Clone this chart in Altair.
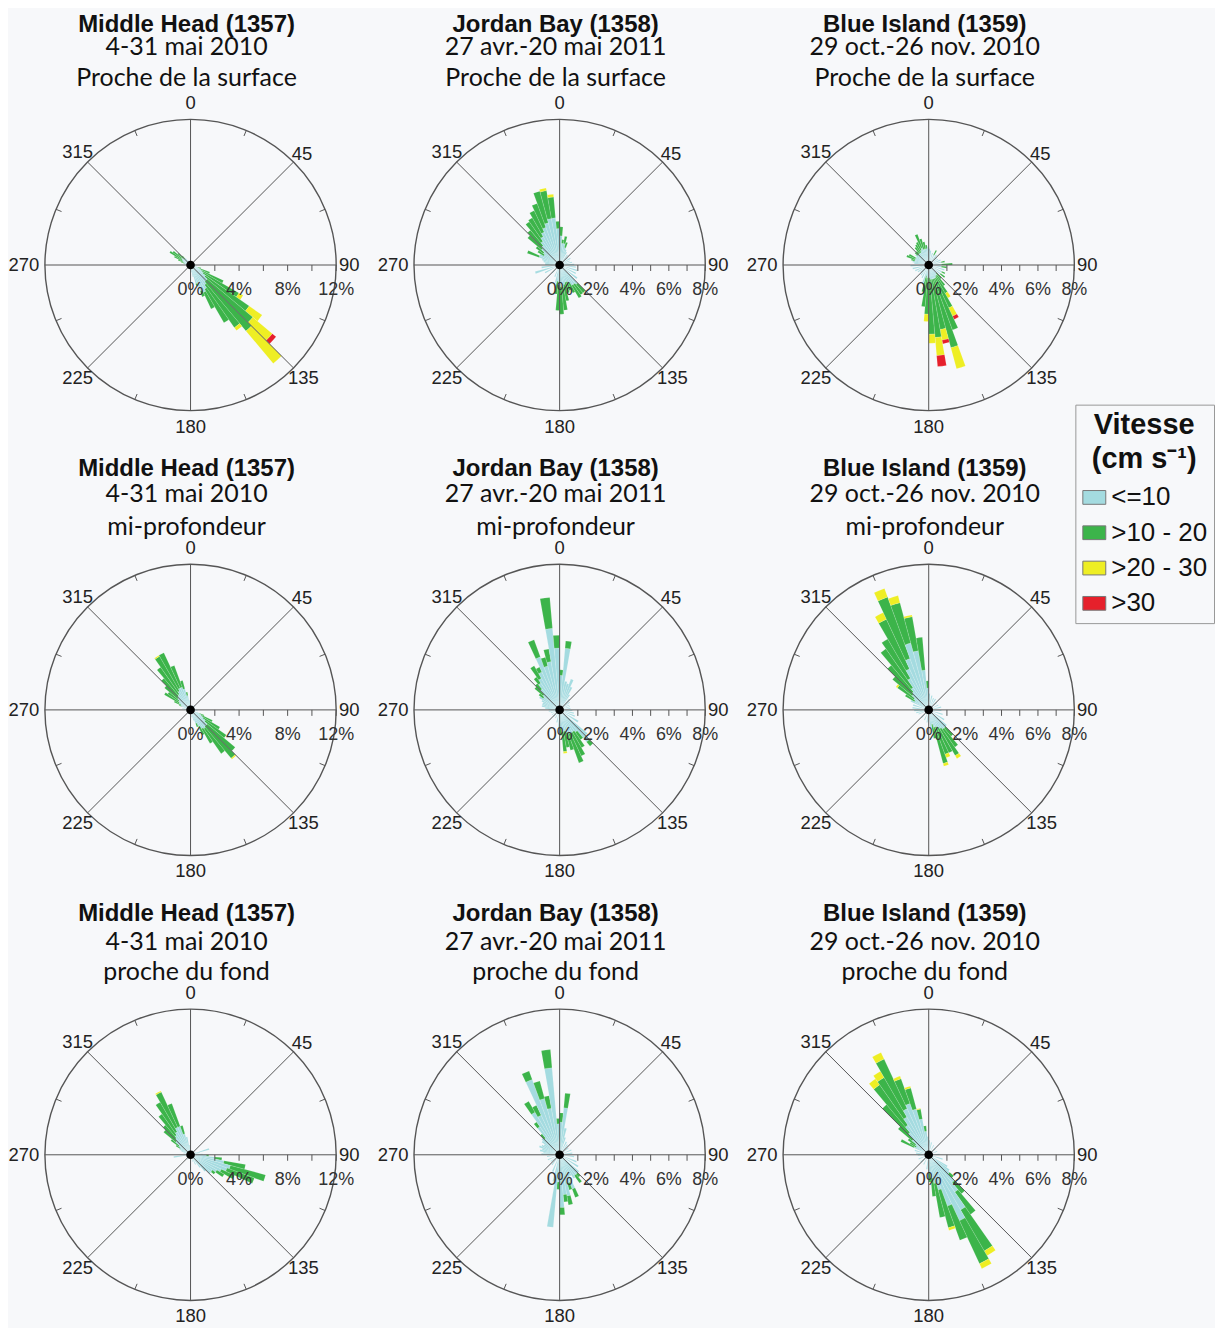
import numpy as np
import pandas as pd
import altair as alt

# ---------------- data ----------------
SPEED_CLASSES = ["<=10", ">10 - 20", ">20 - 30", ">30"]
COLORS = ["#a4dbe0", "#3cb44a", "#eeee24", "#e6202b"]

STATIONS = ["Middle Head (1357)", "Jordan Bay (1358)", "Blue Island (1359)"]
DATES = ["4-31 mai 2010", "27 avr.-20 mai 2011", "29 oct.-26 nov. 2010"]
DEPTHS = ["Proche de la surface", "mi-profondeur", "proche du fond"]

ANGLE_LABELS = [0, 45, 90, 135, 180, 225, 270, 315]
PCT_LABELS_WIDE = [0, 4, 8, 12]
PCT_LABELS_NARROW = [0, 2, 4, 6, 8]
BIN_WIDTH = 5

# (direction bin centre, % <=10, % >10-20, % >20-30, % >30)
P1 = [
    (2.5, 0.3, 0, 0, 0), (22.5, 0.3, 0, 0, 0), (47.5, 0.3, 0, 0, 0), (67.5, 0.3, 0, 0, 0),
    (87.5, 0.4, 0, 0, 0), (97.5, 0.4, 0, 0, 0), (102.5, 0.5, 0, 0, 0), (107.5, 0.6, 0.3, 0, 0),
    (112.5, 0.8, 0.9, 0, 0), (117.5, 1.0, 2.0, 0, 0), (122.5, 1.2, 3.4, 0.4, 0),
    (127.5, 1.5, 4.4, 1.3, 0), (132.5, 1.8, 4.9, 2.1, 0.4), (137.5, 1.8, 5.3, 3.5, 0),
    (142.5, 2.0, 4.3, 0.3, 0), (147.5, 2.3, 3.2, 0, 0), (152.5, 2.5, 1.5, 0, 0),
    (157.5, 2.3, 0.5, 0, 0), (162.5, 1.6, 0.2, 0, 0), (167.5, 1.0, 0, 0, 0), (172.5, 0.6, 0, 0, 0),
    (187.5, 0.4, 0, 0, 0), (212.5, 0.3, 0, 0, 0), (242.5, 0.3, 0, 0, 0), (262.5, 0.4, 0, 0, 0),
    (272.5, 0.5, 0, 0, 0), (277.5, 0.4, 0, 0, 0), (282.5, 0.6, 0, 0, 0), (287.5, 0.5, 0.3, 0, 0),
    (292.5, 0.6, 0.5, 0, 0), (297.5, 0.7, 0.8, 0, 0), (302.5, 0.8, 1.2, 0, 0),
    (307.5, 0.9, 0.9, 0, 0), (312.5, 0.8, 0.6, 0, 0), (317.5, 0.7, 0.3, 0, 0),
    (322.5, 0.7, 0, 0, 0), (327.5, 0.5, 0, 0, 0), (337.5, 0.4, 0, 0, 0), (352.5, 0.3, 0, 0, 0),
]
P2 = [
    (2.5, 1.6, 0.5, 0, 0), (7.5, 1.2, 0.2, 0, 0), (12.5, 1.2, 0.4, 0, 0), (17.5, 1.0, 0.3, 0, 0),
    (22.5, 0.9, 0, 0, 0), (27.5, 0.8, 0, 0, 0), (37.5, 0.7, 0, 0, 0), (47.5, 0.6, 0, 0, 0),
    (57.5, 0.7, 0, 0, 0), (67.5, 0.6, 0, 0, 0), (77.5, 0.7, 0, 0, 0), (87.5, 0.8, 0, 0, 0),
    (97.5, 0.9, 0, 0, 0), (107.5, 1.0, 0, 0, 0), (117.5, 1.0, 0, 0, 0), (127.5, 1.2, 0, 0, 0),
    (137.5, 1.4, 0.6, 0, 0), (142.5, 1.3, 0.7, 0, 0), (147.5, 1.3, 0.8, 0, 0),
    (152.5, 1.1, 0.6, 0, 0), (157.5, 1.0, 0.5, 0, 0), (162.5, 1.0, 0.6, 0, 0),
    (167.5, 1.1, 0.9, 0, 0), (172.5, 1.2, 1.3, 0, 0), (177.5, 1.2, 1.5, 0, 0),
    (182.5, 1.1, 1.4, 0, 0), (187.5, 0.9, 0.7, 0, 0), (192.5, 1.0, 0, 0, 0),
    (202.5, 0.7, 0, 0, 0), (222.5, 0.6, 0, 0, 0), (242.5, 0.9, 0, 0, 0), (252.5, 1.4, 0, 0, 0),
    (262.5, 1.0, 0, 0, 0), (272.5, 0.8, 0, 0, 0), (277.5, 0.8, 0, 0, 0), (282.5, 0.9, 0, 0, 0),
    (287.5, 1.0, 0, 0, 0), (292.5, 1.2, 0.7, 0, 0), (297.5, 1.2, 0, 0, 0), (302.5, 1.0, 0.4, 0, 0),
    (307.5, 1.1, 0.5, 0, 0), (312.5, 1.3, 1.0, 0, 0), (317.5, 1.4, 1.1, 0, 0),
    (322.5, 1.6, 1.3, 0, 0), (327.5, 1.8, 1.2, 0, 0), (332.5, 2.0, 1.3, 0, 0),
    (337.5, 2.2, 1.4, 0, 0), (342.5, 2.4, 1.8, 0, 0), (347.5, 2.6, 1.55, 0.15, 0),
    (352.5, 2.6, 1.15, 0.15, 0), (357.5, 2.0, 0.4, 0, 0),
]
P3 = [
    (2.5, 0.9, 0, 0, 0), (7.5, 0.8, 0, 0, 0), (17.5, 0.7, 0, 0, 0), (27.5, 0.6, 0.3, 0, 0),
    (37.5, 0.7, 0, 0, 0), (47.5, 0.6, 0, 0, 0), (57.5, 0.6, 0, 0, 0), (67.5, 0.7, 0, 0, 0),
    (77.5, 0.7, 0.2, 0, 0), (87.5, 0.7, 0.6, 0, 0), (97.5, 0.7, 0.3, 0, 0), (107.5, 0.9, 0, 0, 0),
    (117.5, 0.8, 0.2, 0, 0), (127.5, 0.8, 0.3, 0, 0), (137.5, 0.6, 0.4, 0, 0),
    (142.5, 0.7, 0.7, 0, 0), (147.5, 0.7, 1.1, 0.3, 0), (152.5, 0.8, 1.8, 0.5, 0.2),
    (157.5, 0.8, 3.0, 0, 0), (162.5, 0.8, 3.9, 1.2, 0), (167.5, 0.8, 2.8, 0.6, 0.2),
    (172.5, 0.8, 3.2, 1.0, 0.6), (177.5, 0.7, 3.1, 0.5, 0), (182.5, 0.7, 2.0, 0.4, 0),
    (187.5, 0.7, 1.6, 0, 0), (192.5, 0.6, 0.9, 0, 0), (197.5, 1.0, 0, 0, 0), (207.5, 0.8, 0, 0, 0),
    (217.5, 0.7, 0, 0, 0), (227.5, 0.6, 0, 0, 0), (237.5, 0.7, 0, 0, 0), (247.5, 0.8, 0, 0, 0),
    (257.5, 0.9, 0, 0, 0), (267.5, 1.0, 0, 0, 0), (277.5, 0.8, 0, 0, 0), (282.5, 0.9, 0, 0, 0),
    (287.5, 0.8, 0.2, 0, 0), (292.5, 0.8, 0.5, 0, 0), (297.5, 0.8, 0.4, 0, 0), (302.5, 0.8, 0, 0, 0),
    (307.5, 0.9, 0, 0, 0), (312.5, 0.8, 0.2, 0, 0), (317.5, 0.8, 0.2, 0, 0), (322.5, 0.8, 0.4, 0, 0),
    (327.5, 0.8, 0.5, 0, 0), (332.5, 0.9, 0.5, 0, 0), (337.5, 1.0, 0.8, 0, 0),
    (342.5, 0.9, 0.6, 0, 0), (347.5, 0.9, 0.4, 0, 0), (352.5, 0.9, 0.2, 0, 0), (357.5, 1.0, 0, 0, 0),
]
P4 = [
    (2.5, 0.4, 0, 0, 0), (22.5, 0.4, 0, 0, 0), (42.5, 0.5, 0, 0, 0), (62.5, 0.4, 0, 0, 0),
    (82.5, 0.5, 0, 0, 0), (97.5, 0.6, 0, 0, 0), (112.5, 0.8, 0.4, 0, 0), (117.5, 1.0, 1.0, 0, 0),
    (122.5, 1.2, 1.6, 0, 0), (127.5, 1.5, 2.1, 0, 0), (132.5, 1.8, 3.0, 0, 0),
    (137.5, 1.8, 3.4, 0.1, 0), (142.5, 1.9, 2.5, 0, 0), (147.5, 1.8, 1.4, 0, 0),
    (152.5, 1.5, 0.8, 0, 0), (157.5, 1.2, 0.3, 0, 0), (162.5, 0.9, 0, 0, 0), (172.5, 0.6, 0, 0, 0),
    (192.5, 0.4, 0, 0, 0), (222.5, 0.4, 0, 0, 0), (252.5, 0.4, 0, 0, 0), (272.5, 0.5, 0, 0, 0),
    (282.5, 0.7, 0, 0, 0), (292.5, 0.8, 0.2, 0, 0), (297.5, 0.9, 0.6, 0, 0),
    (302.5, 1.1, 1.4, 0, 0), (307.5, 1.2, 1.1, 0, 0), (312.5, 1.4, 1.4, 0, 0),
    (317.5, 1.5, 1.9, 0, 0), (322.5, 1.6, 2.7, 0, 0), (327.5, 1.8, 3.3, 0.1, 0),
    (332.5, 2.0, 3.2, 0, 0), (337.5, 2.0, 1.9, 0, 0), (342.5, 1.8, 0.7, 0, 0),
    (347.5, 1.2, 0.3, 0, 0), (352.5, 0.8, 0, 0, 0),
]
P5 = [
    (2.5, 1.9, 0.3, 0, 0), (7.5, 3.4, 0.4, 0, 0), (12.5, 1.6, 0, 0, 0), (17.5, 1.5, 0, 0, 0),
    (22.5, 1.8, 0, 0, 0), (27.5, 1.4, 0, 0, 0), (32.5, 1.0, 0, 0, 0), (42.5, 0.8, 0, 0, 0),
    (52.5, 0.7, 0, 0, 0), (62.5, 0.6, 0, 0, 0), (72.5, 0.6, 0, 0, 0), (82.5, 0.6, 0, 0, 0),
    (92.5, 0.7, 0, 0, 0), (102.5, 0.8, 0, 0, 0), (112.5, 0.9, 0, 0, 0), (122.5, 1.2, 0, 0, 0),
    (132.5, 2.0, 0, 0, 0), (137.5, 2.3, 0.3, 0, 0), (142.5, 1.5, 0.5, 0, 0),
    (147.5, 1.4, 1.0, 0, 0), (152.5, 1.4, 1.4, 0, 0), (157.5, 1.4, 1.7, 0, 0),
    (162.5, 1.3, 1.0, 0, 0), (167.5, 1.2, 0.9, 0, 0), (172.5, 1.2, 1.1, 0.1, 0),
    (177.5, 1.0, 0.4, 0, 0), (182.5, 1.0, 0, 0, 0), (192.5, 0.7, 0, 0, 0), (207.5, 0.5, 0, 0, 0),
    (222.5, 0.5, 0, 0, 0), (237.5, 0.5, 0, 0, 0), (252.5, 0.5, 0, 0, 0), (262.5, 0.6, 0, 0, 0),
    (272.5, 0.6, 0, 0, 0), (277.5, 0.8, 0, 0, 0), (282.5, 1.0, 0, 0, 0), (287.5, 1.0, 0, 0, 0),
    (292.5, 1.0, 0, 0, 0), (297.5, 1.1, 0, 0, 0), (302.5, 1.3, 0, 0, 0), (307.5, 1.1, 0.3, 0, 0),
    (312.5, 1.2, 0.6, 0, 0), (317.5, 1.5, 0.4, 0, 0), (322.5, 1.8, 0.4, 0, 0),
    (327.5, 2.0, 0.8, 0, 0), (332.5, 2.3, 0.3, 0, 0), (337.5, 3.1, 1.0, 0, 0),
    (342.5, 2.5, 0.5, 0, 0), (347.5, 2.7, 0.7, 0, 0), (352.5, 4.5, 1.7, 0, 0),
    (357.5, 3.4, 0.7, 0, 0),
]
P6 = [
    (2.5, 0.9, 0, 0, 0), (12.5, 0.8, 0, 0, 0), (22.5, 0.7, 0, 0, 0), (32.5, 0.7, 0, 0, 0),
    (47.5, 0.6, 0, 0, 0), (62.5, 0.6, 0, 0, 0), (77.5, 0.7, 0, 0, 0), (92.5, 0.7, 0, 0, 0),
    (107.5, 0.8, 0, 0, 0), (122.5, 1.0, 0, 0, 0), (132.5, 1.3, 0, 0, 0), (137.5, 1.3, 0.6, 0, 0),
    (142.5, 1.3, 1.2, 0, 0), (147.5, 1.2, 1.7, 0.2, 0), (152.5, 1.1, 1.5, 0, 0),
    (157.5, 1.0, 1.6, 0.2, 0), (162.5, 1.0, 2.05, 0.15, 0), (167.5, 0.8, 0.8, 0, 0),
    (172.5, 1.0, 0, 0, 0), (187.5, 0.7, 0, 0, 0), (202.5, 0.6, 0, 0, 0), (222.5, 0.6, 0, 0, 0),
    (247.5, 0.6, 0, 0, 0), (257.5, 0.7, 0, 0, 0), (267.5, 0.8, 0, 0, 0), (277.5, 0.9, 0, 0, 0),
    (287.5, 0.9, 0, 0, 0), (297.5, 1.1, 0, 0, 0), (302.5, 0.9, 0.6, 0, 0),
    (307.5, 1.0, 1.1, 0.1, 0), (312.5, 1.2, 1.4, 0, 0), (317.5, 1.3, 1.9, 0, 0),
    (322.5, 1.5, 2.6, 0, 0), (327.5, 2.0, 2.5, 0, 0), (332.5, 2.5, 3.0, 0.4, 0),
    (337.5, 3.0, 3.6, 0.5, 0), (342.5, 3.8, 2.3, 0.4, 0), (347.5, 3.3, 1.9, 0.1, 0),
    (352.5, 2.2, 1.8, 0, 0), (357.5, 1.2, 0.4, 0, 0),
]
P7 = [
    (2.5, 0.4, 0, 0, 0), (22.5, 0.4, 0, 0, 0), (42.5, 0.5, 0, 0, 0), (67.5, 0.5, 0, 0, 0),
    (72.5, 1.6, 0, 0, 0), (77.5, 0.8, 0, 0, 0), (87.5, 1.0, 0, 0, 0), (92.5, 1.3, 0.2, 0, 0),
    (97.5, 2.0, 0.6, 0, 0), (102.5, 2.8, 1.8, 0, 0), (107.5, 3.4, 3.0, 0, 0),
    (112.5, 3.2, 2.4, 0, 0), (117.5, 2.8, 1.2, 0, 0), (122.5, 2.5, 0.7, 0, 0),
    (127.5, 2.2, 0.3, 0, 0), (132.5, 2.2, 0, 0, 0), (137.5, 1.8, 0, 0, 0), (142.5, 1.3, 0, 0, 0),
    (152.5, 0.9, 0, 0, 0), (162.5, 0.6, 0, 0, 0), (182.5, 0.4, 0, 0, 0), (212.5, 0.5, 0, 0, 0),
    (242.5, 0.4, 0, 0, 0), (262.5, 1.4, 0, 0, 0), (272.5, 0.5, 0, 0, 0), (282.5, 0.6, 0, 0, 0),
    (292.5, 0.8, 0, 0, 0), (297.5, 1.0, 0, 0, 0), (302.5, 1.0, 0.4, 0, 0),
    (307.5, 1.2, 0.8, 0, 0), (312.5, 1.6, 1.3, 0, 0), (317.5, 1.8, 1.4, 0, 0),
    (322.5, 2.0, 2.1, 0, 0), (327.5, 2.2, 2.8, 0, 0), (332.5, 2.5, 3.2, 0.1, 0),
    (337.5, 2.5, 2.0, 0, 0), (342.5, 1.8, 0.7, 0, 0), (347.5, 1.5, 0, 0, 0), (352.5, 0.8, 0, 0, 0),
]
P8 = [
    (2.5, 1.8, 0.5, 0, 0), (7.5, 2.6, 0.8, 0, 0), (12.5, 1.5, 0, 0, 0), (17.5, 1.0, 0, 0, 0),
    (27.5, 0.8, 0, 0, 0), (37.5, 0.7, 0, 0, 0), (52.5, 0.6, 0, 0, 0), (67.5, 0.7, 0, 0, 0),
    (82.5, 0.7, 0, 0, 0), (97.5, 0.8, 0, 0, 0), (112.5, 1.0, 0, 0, 0), (122.5, 1.2, 0, 0, 0),
    (132.5, 1.4, 0, 0, 0), (137.5, 1.4, 0.2, 0, 0), (142.5, 1.4, 0.5, 0, 0), (147.5, 1.5, 0, 0, 0),
    (152.5, 1.3, 0, 0, 0), (157.5, 2.0, 0.5, 0, 0), (162.5, 1.6, 0.4, 0, 0),
    (167.5, 2.3, 0.5, 0, 0), (172.5, 2.2, 0.4, 0, 0), (177.5, 2.9, 0.4, 0, 0),
    (182.5, 1.5, 0.4, 0, 0), (187.5, 4.0, 0, 0, 0), (192.5, 1.5, 0, 0, 0), (202.5, 1.0, 0, 0, 0),
    (217.5, 0.7, 0, 0, 0), (232.5, 0.6, 0, 0, 0), (247.5, 0.7, 0, 0, 0), (262.5, 0.7, 0, 0, 0),
    (272.5, 1.0, 0, 0, 0), (277.5, 0.9, 0, 0, 0), (282.5, 1.1, 0, 0, 0), (287.5, 1.0, 0, 0, 0),
    (292.5, 1.2, 0, 0, 0), (297.5, 1.1, 0, 0, 0), (302.5, 1.0, 0, 0, 0), (307.5, 1.2, 0, 0, 0),
    (312.5, 1.3, 0, 0, 0), (317.5, 1.2, 0.3, 0, 0), (322.5, 1.9, 0.3, 0, 0),
    (327.5, 2.7, 0.7, 0, 0), (332.5, 2.4, 0.6, 0, 0), (337.5, 4.4, 0.5, 0, 0),
    (342.5, 3.2, 1.0, 0, 0), (347.5, 2.6, 0.7, 0, 0), (352.5, 4.8, 1.0, 0, 0),
    (357.5, 1.7, 0.3, 0, 0),
]
P9 = [
    (2.5, 0.8, 0, 0, 0), (12.5, 0.7, 0, 0, 0), (27.5, 0.6, 0, 0, 0), (47.5, 0.5, 0, 0, 0),
    (67.5, 0.5, 0, 0, 0), (87.5, 0.6, 0, 0, 0), (107.5, 0.8, 0, 0, 0), (122.5, 1.2, 0, 0, 0),
    (127.5, 1.4, 0, 0, 0), (132.5, 1.5, 0.3, 0, 0), (137.5, 2.0, 0.8, 0, 0),
    (142.5, 2.5, 1.5, 0, 0), (147.5, 3.5, 2.6, 0.3, 0), (152.5, 4.0, 2.6, 0.3, 0),
    (157.5, 3.0, 2.0, 0, 0), (162.5, 2.0, 2.15, 0.15, 0), (167.5, 1.6, 1.9, 0, 0),
    (172.5, 1.3, 1.0, 0, 0), (177.5, 1.0, 0.5, 0, 0), (187.5, 0.8, 0, 0, 0), (207.5, 0.6, 0, 0, 0),
    (227.5, 0.6, 0, 0, 0), (247.5, 0.6, 0, 0, 0), (267.5, 0.6, 0, 0, 0), (277.5, 0.7, 0, 0, 0),
    (287.5, 0.8, 0, 0, 0), (297.5, 0.9, 0.8, 0, 0), (302.5, 0.8, 0.4, 0, 0),
    (307.5, 0.9, 0.5, 0, 0), (312.5, 1.2, 1.0, 0, 0), (317.5, 1.6, 2.0, 0, 0),
    (322.5, 2.0, 2.7, 0.4, 0), (327.5, 2.4, 2.5, 0.4, 0), (332.5, 2.8, 3.0, 0.4, 0),
    (337.5, 3.0, 1.45, 0.15, 0), (342.5, 2.6, 1.2, 0.1, 0), (347.5, 2.0, 0.55, 0.05, 0),
    (352.5, 1.3, 0.3, 0, 0), (357.5, 1.0, 0, 0, 0),
]
PANELS = [[P1, P2, P3], [P4, P5, P6], [P7, P8, P9]]
PANEL_LABELS = [PCT_LABELS_WIDE, PCT_LABELS_NARROW, PCT_LABELS_NARROW]

# ---------------- layout / style ----------------
S = 340          # plot square, px
R = 146          # rose radius, px
BG = "#f7f8fa"
LINE = "#555555"
LABEL_GAP = {0: 16, 45: 12, 90: 13, 135: 14, 180: 16, 225: 14, 270: 21, 315: 14}
TITLE_Y = [(241, 219, 187), (241, 216, 183), (241, 213, 183)]   # px above rose centre
TITLE_DX = -4

LEGEND = alt.Legend(
    title=["Vitesse", "(cm s⁻¹)"], orient="none", legendX=1057, legendY=310,
    titleFont="Liberation Sans", titleFontSize=29, titleFontWeight="bold", titleColor="#111",
    titleLineHeight=35, titleAnchor="middle", titlePadding=10,
    labelFont="Liberation Sans", labelFontSize=26, labelColor="#111", labelOffset=4,
    symbolType="M-1,-0.6H1V0.6H-1Z", symbolSize=529, symbolStrokeColor="#777",
    symbolStrokeWidth=1, symbolOpacity=1, rowPadding=9.4,
    strokeColor="#999999", fillColor=BG, padding=6, cornerRadius=0,
)


def rose(rows, station, date, depth, labels, title_y):
    maxpct = labels[-1]
    k = maxpct / R                # data units per px
    half = (S / 2) * k
    xs = alt.Scale(domain=[-half, half], nice=False, zero=False)
    ys = alt.Scale(domain=[-half, half], nice=False, zero=False)
    X = lambda f: alt.X(f, scale=xs, axis=None)
    Y = lambda f: alt.Y(f, scale=ys, axis=None)

    recs = []
    for d, *vals in rows:
        cum = 0.0
        for cls, v in zip(SPEED_CLASSES, vals):
            if v > 0:
                recs.append({"t0": d - BIN_WIDTH / 2, "t1": d + BIN_WIDTH / 2,
                             "r0": cum, "r1": cum + v, "cls": cls})
            cum += v
    bars = alt.Chart(pd.DataFrame(recs)).mark_arc(
        stroke="#ffffff", strokeWidth=0.4, strokeOpacity=0.35
    ).encode(
        theta=alt.Theta("t0:Q", stack=False,
                        scale=alt.Scale(domain=[0, 360], range=[0, 2 * np.pi])),
        theta2="t1:Q",
        radius=alt.Radius("r0:Q", stack=False,
                          scale=alt.Scale(type="linear", domain=[0, maxpct], range=[0, R])),
        radius2="r1:Q",
        color=alt.Color("cls:N", scale=alt.Scale(domain=SPEED_CLASSES, range=COLORS),
                        legend=LEGEND),
    )

    circle = alt.Chart(pd.DataFrame({"c": [0]})).mark_arc(
        radius=R, theta=0, theta2=2 * np.pi, fillOpacity=0, stroke=LINE
    ).encode(strokeWidth=alt.value(1.4))

    sp = []
    for a in [0, 45, 90, 135]:
        rad = np.deg2rad(a)
        x, y = maxpct * np.sin(rad), maxpct * np.cos(rad)
        sp.append({"x": x, "y": y, "x2": -x, "y2": -y})
    step = (labels[1] - labels[0]) / 2
    v = step
    while v <= maxpct + 1e-9:
        sp.append({"x": v, "y": 0, "x2": v, "y2": -6 * k})
        v += step
    for a in np.arange(22.5, 360, 45):
        rad = np.deg2rad(a)
        sp.append({"x": maxpct * np.sin(rad), "y": maxpct * np.cos(rad),
                   "x2": (maxpct - 6 * k) * np.sin(rad), "y2": (maxpct - 6 * k) * np.cos(rad)})
    spokes = alt.Chart(pd.DataFrame(sp)).mark_rule(color=LINE, strokeWidth=1).encode(
        x=X("x:Q"), y=Y("y:Q"), x2="x2:Q", y2="y2:Q",
    )

    al = []
    for a in ANGLE_LABELS:
        rad = np.deg2rad(a)
        r = maxpct + LABEL_GAP[a] * k
        al.append({"x": r * np.sin(rad), "y": r * np.cos(rad), "t": str(a)})
    angle_text = alt.Chart(pd.DataFrame(al)).mark_text(
        font="Liberation Sans", fontSize=18.5, color="#222", baseline="middle", align="center"
    ).encode(x=X("x:Q"), y=Y("y:Q"), text="t:N")

    pl = [{"x": p, "y": -25 * k, "t": f"{p}%"} for p in labels]
    pct_text = alt.Chart(pd.DataFrame(pl)).mark_text(
        font="Liberation Sans", fontSize=18, color="#333", baseline="middle", align="center"
    ).encode(x=X("x:Q"), y=Y("y:Q"), text="t:N")

    centre = alt.Chart(pd.DataFrame({"x": [0.0], "y": [0.0]})).mark_circle(
        size=75, color="#000", opacity=1
    ).encode(x=X("x:Q"), y=Y("y:Q"))

    head = alt.Chart(pd.DataFrame({"x": [TITLE_DX * k], "y": [title_y[0] * k], "t": [station]})
                     ).mark_text(font="Liberation Sans", fontSize=24, fontWeight="bold",
                                 color="#111", baseline="middle", align="center"
                                 ).encode(x=X("x:Q"), y=Y("y:Q"), text="t:N")
    sub = alt.Chart(pd.DataFrame({"x": [TITLE_DX * k] * 2,
                                  "y": [title_y[1] * k, title_y[2] * k],
                                  "t": [date, depth]})
                    ).mark_text(font="Lato", fontSize=25, color="#111",
                                baseline="middle", align="center"
                                ).encode(x=X("x:Q"), y=Y("y:Q"), text="t:N")

    return alt.layer(bars, circle, spokes, angle_text, pct_text, centre, head, sub).properties(
        width=S, height=S,
    )


rows_out = []
for i in range(3):
    rows_out.append(alt.hconcat(
        *[rose(PANELS[i][j], STATIONS[j], DATES[j], DEPTHS[i], PANEL_LABELS[j], TITLE_Y[i])
          for j in range(3)],
        spacing=17,
    ))

chart = alt.vconcat(*rows_out, spacing=20).properties(
    padding={"left": 0, "top": 2, "right": 0, "bottom": 0},
    background=BG,
).configure_view(stroke=None)

chart.save("out.html", embed_options={"renderer": "svg", "actions": False})
